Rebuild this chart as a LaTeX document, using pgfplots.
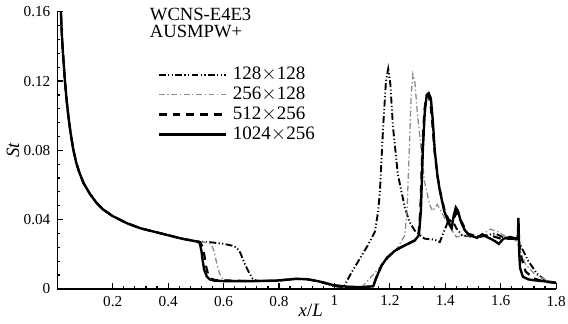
\documentclass[border=0pt]{standalone}
\usepackage{fontspec}
\setmainfont{Liberation Serif}
\usepackage{pgfplots}
\pgfplotsset{compat=1.18}
\usetikzlibrary{calc}

\pgfplotstableread{
x y
0.010 0.175
0.013 0.160
0.016 0.148
0.020 0.137
0.027 0.121
0.033 0.110
0.039 0.101
0.047 0.091
0.057 0.081
0.068 0.073
0.080 0.067
0.095 0.061
0.117 0.055
0.140 0.050
0.164 0.046
0.200 0.042
0.250 0.038
0.300 0.035
0.350 0.033
0.400 0.031
0.450 0.029
0.500 0.0275
0.550 0.0270
0.600 0.0260
0.630 0.0250
0.646 0.0240
0.660 0.0210
0.675 0.0150
0.690 0.0100
0.705 0.0060
0.720 0.0046
0.800 0.0046
0.860 0.0058
0.900 0.0056
0.940 0.0045
0.970 0.0030
1.000 0.0015
1.033 0.0010
1.060 0.0090
1.090 0.0170
1.120 0.0250
1.146 0.0330
1.158 0.0450
1.164 0.0560
1.176 0.0940
1.186 0.1200
1.194 0.1270
1.202 0.1180
1.211 0.0940
1.229 0.0660
1.254 0.0470
1.270 0.0390
1.290 0.0336
1.325 0.0290
1.360 0.0285
1.380 0.0270
1.395 0.0330
1.410 0.0390
1.425 0.0400
1.440 0.0350
1.460 0.0310
1.500 0.0300
1.550 0.0310
1.580 0.0320
1.620 0.0290
1.660 0.0290
1.675 0.0240
1.700 0.0160
1.730 0.0090
1.760 0.0050
1.800 0.0035
}\dataA

\pgfplotstableread{
x y
0.010 0.175
0.013 0.160
0.016 0.148
0.020 0.137
0.027 0.121
0.033 0.110
0.039 0.101
0.047 0.091
0.057 0.081
0.068 0.073
0.080 0.067
0.095 0.061
0.117 0.055
0.140 0.050
0.164 0.046
0.200 0.042
0.250 0.038
0.300 0.035
0.350 0.033
0.400 0.031
0.450 0.029
0.500 0.0275
0.530 0.0270
0.555 0.0260
0.565 0.0220
0.575 0.0150
0.585 0.0090
0.595 0.0060
0.610 0.0050
0.700 0.0045
0.800 0.0047
0.860 0.0058
0.900 0.0056
0.940 0.0045
0.970 0.0030
1.000 0.0018
1.050 0.0012
1.100 0.0012
1.150 0.0100
1.200 0.0190
1.229 0.0240
1.254 0.0310
1.262 0.0450
1.270 0.0800
1.277 0.1120
1.283 0.1240
1.290 0.1200
1.300 0.1000
1.307 0.0900
1.316 0.0750
1.325 0.0620
1.343 0.0490
1.354 0.0450
1.371 0.0487
1.385 0.0450
1.400 0.0400
1.420 0.0350
1.440 0.0300
1.470 0.0310
1.500 0.0300
1.530 0.0310
1.563 0.0345
1.590 0.0330
1.620 0.0300
1.655 0.0280
1.670 0.0220
1.690 0.0140
1.720 0.0090
1.740 0.0070
1.780 0.0040
1.800 0.0035
}\dataB

\pgfplotstableread{
x y
0.010 0.175
0.013 0.160
0.016 0.148
0.020 0.137
0.027 0.121
0.033 0.110
0.039 0.101
0.047 0.091
0.057 0.081
0.068 0.073
0.080 0.067
0.095 0.061
0.117 0.055
0.140 0.050
0.164 0.046
0.200 0.042
0.250 0.038
0.300 0.035
0.350 0.033
0.400 0.031
0.450 0.029
0.500 0.0275
0.515 0.0270
0.522 0.0250
0.530 0.0200
0.537 0.0130
0.545 0.0080
0.555 0.0060
0.570 0.0050
0.700 0.0045
0.780 0.0047
0.820 0.0052
0.860 0.0058
0.900 0.0056
0.940 0.0045
0.970 0.0033
1.000 0.0020
1.050 0.0012
1.100 0.0010
1.140 0.0015
1.150 0.0060
1.170 0.0135
1.190 0.0180
1.218 0.0220
1.240 0.0240
1.265 0.0260
1.290 0.0280
1.303 0.0310
1.310 0.0450
1.317 0.0800
1.324 0.1020
1.331 0.1110
1.338 0.1120
1.346 0.1080
1.353 0.0960
1.361 0.0800
1.372 0.0650
1.382 0.0560
1.398 0.0450
1.412 0.0400
1.425 0.0385
1.440 0.0440
1.455 0.0400
1.480 0.0320
1.520 0.0300
1.560 0.0310
1.600 0.0290
1.650 0.0290
1.665 0.0280
1.675 0.0180
1.690 0.0100
1.720 0.0060
1.760 0.0040
1.800 0.0035
}\dataC

\pgfplotstableread{
x y
0.010 0.175
0.013 0.160
0.016 0.148
0.020 0.137
0.027 0.121
0.033 0.110
0.039 0.101
0.047 0.091
0.057 0.081
0.068 0.073
0.080 0.067
0.095 0.061
0.117 0.055
0.140 0.050
0.164 0.046
0.200 0.042
0.250 0.038
0.300 0.035
0.350 0.033
0.400 0.031
0.450 0.029
0.500 0.0275
0.510 0.0270
0.515 0.0260
0.520 0.0220
0.525 0.0160
0.530 0.0110
0.540 0.0070
0.550 0.0055
0.565 0.0048
0.600 0.0045
0.700 0.0045
0.780 0.0047
0.820 0.0052
0.860 0.0058
0.900 0.0056
0.940 0.0045
0.970 0.0033
1.000 0.0020
1.050 0.0012
1.100 0.0010
1.140 0.0015
1.150 0.0060
1.170 0.0135
1.190 0.0180
1.218 0.0220
1.240 0.0240
1.265 0.0260
1.290 0.0280
1.305 0.0310
1.312 0.0450
1.319 0.0800
1.326 0.1020
1.333 0.1120
1.340 0.1130
1.348 0.1100
1.355 0.0970
1.362 0.0800
1.372 0.0650
1.380 0.0570
1.396 0.0450
1.410 0.0390
1.423 0.0350
1.430 0.0420
1.438 0.0470
1.446 0.0450
1.456 0.0390
1.470 0.0340
1.486 0.0310
1.515 0.0295
1.533 0.0315
1.550 0.0300
1.563 0.0290
1.580 0.0275
1.593 0.0260
1.610 0.0290
1.635 0.0300
1.655 0.0290
1.662 0.0300
1.664 0.0410
1.667 0.0200
1.670 0.0120
1.680 0.0070
1.700 0.0055
1.720 0.0050
1.780 0.0040
1.800 0.0035
}\dataD

\begin{document}
\begin{tikzpicture}
\begin{axis}[
  name=ax,
  scale only axis, width=252pt, height=140pt,
  xmin=0, xmax=1.8, ymin=0, ymax=0.16,
  axis lines=left,
  axis line style={-, line width=0.8pt},
  xtick={0.2,0.4,0.6,0.8,1,1.2,1.4,1.6,1.8},
  ytick={0,0.04,0.08,0.12,0.16},
  minor x tick num=4, minor y tick num=4,
  tick align=inside,
  major tick length=3pt, minor tick length=1.6pt,
  tick style={black, line width=0.6pt},
  scaled y ticks=false, scaled x ticks=false,
  /pgf/number format/assume math mode=true,
  yticklabel style={/pgf/number format/fixed, /pgf/number format/precision=2},
  xticklabel style={/pgf/number format/fixed, /pgf/number format/precision=1},
  tick label style={font=\fontsize{7.7}{9}\selectfont},
  xlabel={\textit{x}/\textit{L}},
  ylabel={\textit{St}},
  label style={font=\fontsize{9.5}{10}\selectfont},
  xlabel style={at={(axis description cs:0.508,-0.078)}, anchor=center},
  ylabel style={at={(axis description cs:-0.089,0.5)}, anchor=center},
  clip mode=individual,
  legend style={draw=none, fill=none, at={(rel axis cs:0.2,0.807)}, anchor=north west,
    font=\fontsize{9.6}{10}\selectfont, row sep=0.6pt, column sep=2.5pt, inner sep=0pt,
    nodes={inner sep=0.4pt, text height=6.7pt, text depth=1.9pt}},
  legend cell align=left,
  legend image code/.code={\draw[#1] (0pt,0pt) -- (34pt,0pt);},
]
\addplot[black, line width=0.95pt, dash pattern=on 3.5pt off 1.2pt on 0.6pt off 1.2pt on 0.6pt off 1.2pt] table[x=x,y=y] {\dataA};
\addlegendentry{128$\times$128}
\addplot[black!45, line width=0.65pt, dash pattern=on 3pt off 1.3pt on 0.7pt off 1.3pt] table[x=x,y=y] {\dataB};
\addlegendentry{256$\times$128}
\addplot[black, line width=1.1pt, dash pattern=on 4pt off 3pt] table[x=x,y=y] {\dataC};
\addlegendentry{512$\times$256}
\addplot[black, line width=1.2pt] table[x=x,y=y] {\dataD};
\addlegendentry{1024$\times$256}
\node[anchor=north west, align=left, inner sep=0pt, font=\fontsize{9.4}{8.5}\selectfont] at (rel axis cs:0.185,1.014) {WCNS-E4E3\\AUSMPW+};
\end{axis}
\pgfresetboundingbox
\path (ax.outer south west) rectangle ($(ax.outer north east -| ax.south east)+(6pt,0)$);
\end{tikzpicture}
\end{document}
